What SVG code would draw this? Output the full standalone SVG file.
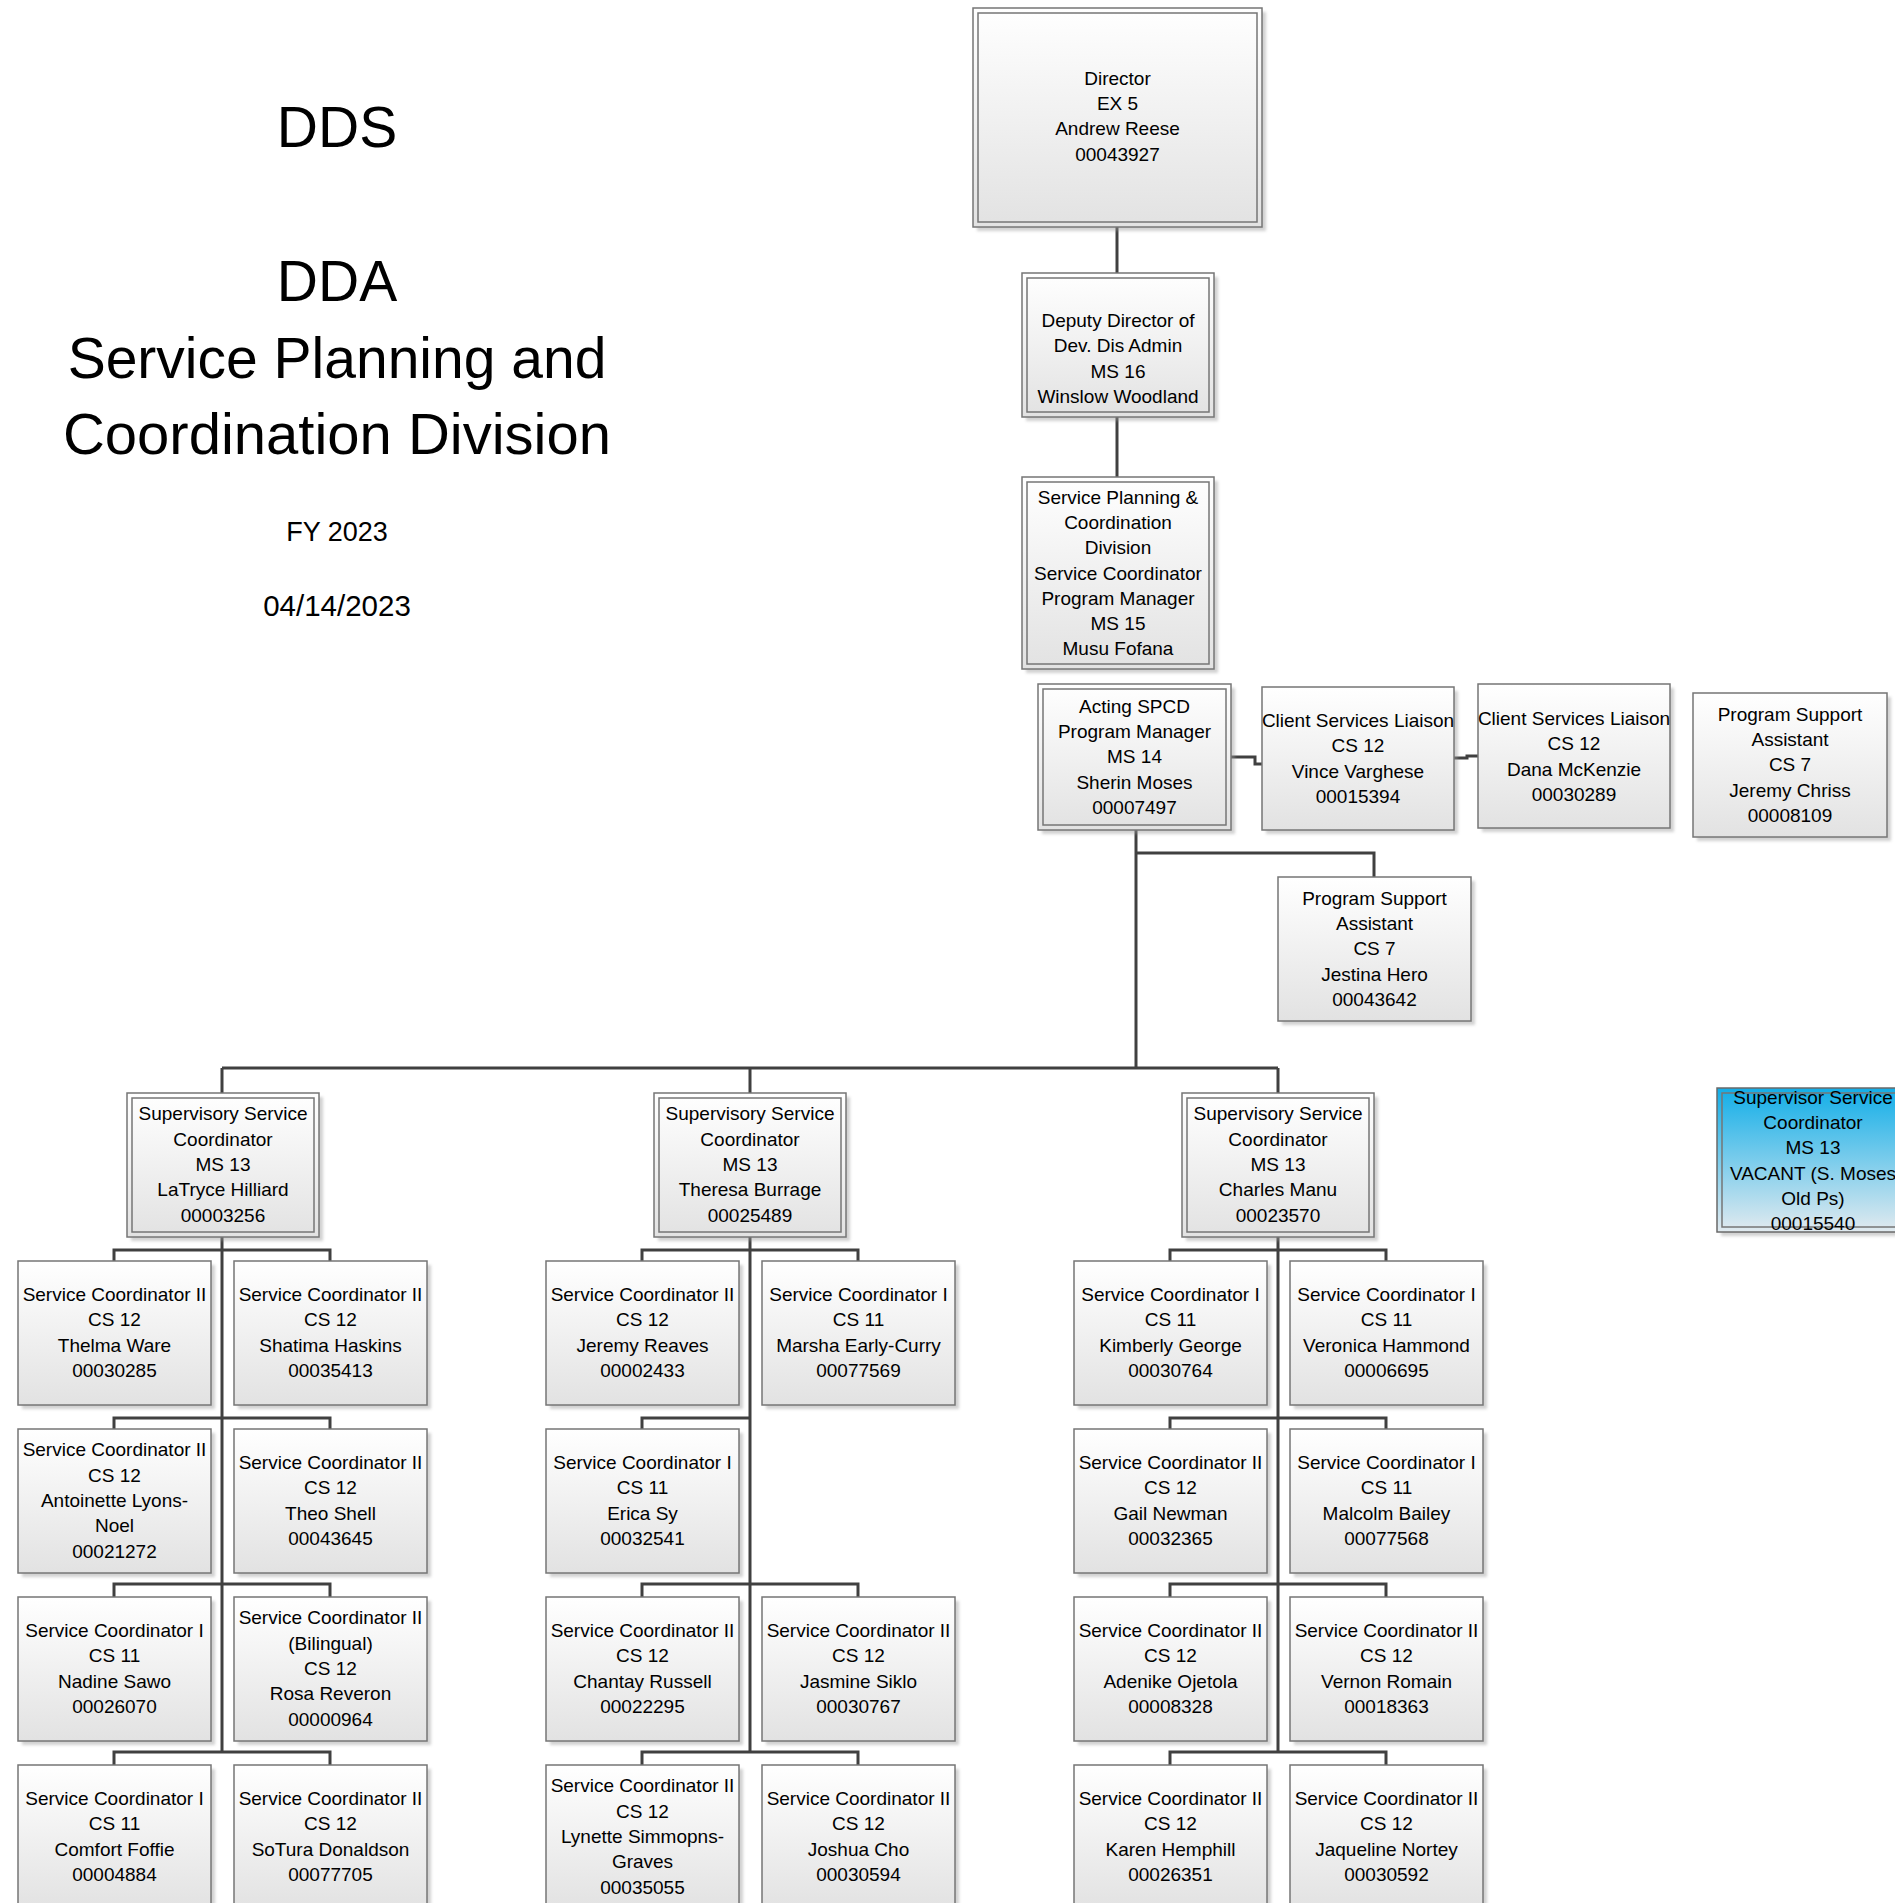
<svg xmlns="http://www.w3.org/2000/svg" width="1895" height="1903" viewBox="0 0 1895 1903">
<defs>
<linearGradient id="g" x1="0" y1="0" x2="0" y2="1"><stop offset="0" stop-color="#ffffff"/><stop offset="1" stop-color="#e2e2e2"/></linearGradient>
<linearGradient id="gb" x1="0" y1="0" x2="0" y2="1"><stop offset="0" stop-color="#12aee8"/><stop offset="1" stop-color="#e2eaef"/></linearGradient>
<filter id="blur" x="-10%" y="-10%" width="120%" height="120%"><feGaussianBlur stdDeviation="1.5"/></filter>
</defs>
<style>
.t{font-family:"Liberation Sans",Arial,sans-serif;font-size:19px;fill:#000;text-anchor:middle}
.ti{font-family:"Liberation Sans",Arial,sans-serif;fill:#000;text-anchor:middle}
.box{fill:url(#g);stroke:#767676;stroke-width:1.5}
.vac{fill:url(#gb);stroke:#6a6a6a;stroke-width:1.5}
.in{fill:none;stroke:#767676;stroke-width:1.5}
.sh{fill:#9a9a9a;opacity:.45;filter:url(#blur)}
.con{fill:none;stroke:#404040;stroke-width:3}
</style>
<rect width="1895" height="1903" fill="#fff"/>

<g id="title">
<text class="ti" x="337" y="147" font-size="57">DDS</text>
<text class="ti" x="337" y="301" font-size="57">DDA</text>
<text class="ti" x="337" y="378" font-size="57">Service Planning and</text>
<text class="ti" x="337" y="454" font-size="58">Coordination Division</text>
<text class="ti" x="337" y="541" font-size="27">FY 2023</text>
<text class="ti" x="337" y="616" font-size="29.5">04/14/2023</text>
</g>

<g id="connectors">
<path class="con" d="M1117,227V273"/>
<path class="con" d="M1117,417V477"/>
<path class="con" d="M1231,757H1255V764H1278"/>
<path class="con" d="M1454,758H1467V756H1478"/>
<path class="con" d="M1136,830V1068"/>
<path class="con" d="M1136,853H1374V877"/>
<path class="con" d="M222,1068H1278M222,1068V1093M750,1068V1093M1278,1068V1093"/>
<path class="con" d="M222,1237V1752M114,1261V1250H330V1261M114,1429V1418H330V1429M114,1597V1584H330V1597M114,1765V1752H330V1765"/>
<path class="con" d="M750,1237V1752M642,1261V1250H858V1261M642,1429V1418H750M642,1597V1584H858V1597M642,1765V1752H858V1765"/>
<path class="con" d="M1278,1237V1752M1170,1261V1250H1386V1261M1170,1429V1418H1386V1429M1170,1597V1584H1386V1597M1170,1765V1752H1386V1765"/>
</g>

<g id="director">
<rect class="sh" x="977" y="12" width="289" height="219"/>
<rect class="box" x="973" y="8" width="289" height="219"/>
<rect class="in" x="978" y="13" width="279" height="209"/>
<text class="t"><tspan x="1117.5" y="84.5">Director</tspan><tspan x="1117.5" y="109.9">EX 5</tspan><tspan x="1117.5" y="135.1">Andrew Reese</tspan><tspan x="1117.5" y="160.5">00043927</tspan></text>
</g>

<g id="deputy">
<rect class="sh" x="1026" y="277" width="192" height="144"/>
<rect class="box" x="1022" y="273" width="192" height="144"/>
<rect class="in" x="1027" y="278" width="182" height="134"/>
<text class="t"><tspan x="1118" y="327">Deputy Director of</tspan><tspan x="1118" y="352.3">Dev. Dis Admin</tspan><tspan x="1118" y="377.6">MS 16</tspan><tspan x="1118" y="403">Winslow Woodland</tspan></text>
</g>

<g id="spcd-manager">
<rect class="sh" x="1026" y="481" width="192" height="192"/>
<rect class="box" x="1022" y="477" width="192" height="192"/>
<rect class="in" x="1027" y="482" width="182" height="182"/>
<text class="t"><tspan x="1118" y="503.6">Service Planning &amp;</tspan><tspan x="1118" y="528.9">Coordination</tspan><tspan x="1118" y="554.2">Division</tspan><tspan x="1118" y="579.5">Service Coordinator</tspan><tspan x="1118" y="604.8">Program Manager</tspan><tspan x="1118" y="630.1">MS 15</tspan><tspan x="1118" y="655.4">Musu Fofana</tspan></text>
</g>

<g id="acting-spcd">
<rect class="sh" x="1042" y="688" width="193" height="146"/>
<rect class="box" x="1038" y="684" width="193" height="146"/>
<rect class="in" x="1043" y="689" width="183" height="136"/>
<text class="t"><tspan x="1134.5" y="712.6">Acting SPCD</tspan><tspan x="1134.5" y="737.9">Program Manager</tspan><tspan x="1134.5" y="763.2">MS 14</tspan><tspan x="1134.5" y="788.5">Sherin Moses</tspan><tspan x="1134.5" y="813.8">00007497</tspan></text>
</g>

<g id="csl-varghese">
<rect class="sh" x="1266" y="691" width="192" height="143"/>
<rect class="box" x="1262" y="687" width="192" height="143"/>
<text class="t"><tspan x="1358" y="727">Client Services Liaison</tspan><tspan x="1358" y="752.3">CS 12</tspan><tspan x="1358" y="777.6">Vince Varghese</tspan><tspan x="1358" y="803">00015394</tspan></text>
</g>

<g id="csl-mckenzie">
<rect class="sh" x="1482" y="688" width="192" height="144"/>
<rect class="box" x="1478" y="684" width="192" height="144"/>
<text class="t"><tspan x="1574" y="725">Client Services Liaison</tspan><tspan x="1574" y="750.3">CS 12</tspan><tspan x="1574" y="775.6">Dana McKenzie</tspan><tspan x="1574" y="801">00030289</tspan></text>
</g>

<g id="psa-chriss">
<rect class="sh" x="1697" y="697" width="194" height="144"/>
<rect class="box" x="1693" y="693" width="194" height="144"/>
<text class="t"><tspan x="1790" y="720.6">Program Support</tspan><tspan x="1790" y="745.9">Assistant</tspan><tspan x="1790" y="771.2">CS 7</tspan><tspan x="1790" y="796.5">Jeremy Chriss</tspan><tspan x="1790" y="821.8">00008109</tspan></text>
</g>

<g id="psa-hero">
<rect class="sh" x="1282" y="881" width="193" height="144"/>
<rect class="box" x="1278" y="877" width="193" height="144"/>
<text class="t"><tspan x="1374.5" y="904.6">Program Support</tspan><tspan x="1374.5" y="929.9">Assistant</tspan><tspan x="1374.5" y="955.2">CS 7</tspan><tspan x="1374.5" y="980.5">Jestina Hero</tspan><tspan x="1374.5" y="1005.8">00043642</tspan></text>
</g>

<g id="sup-hilliard">
<rect class="sh" x="131" y="1097" width="192" height="144"/>
<rect class="box" x="127" y="1093" width="192" height="144"/>
<rect class="in" x="132" y="1098" width="182" height="134"/>
<text class="t"><tspan x="223" y="1120.4">Supervisory Service</tspan><tspan x="223" y="1145.7">Coordinator</tspan><tspan x="223" y="1171">MS 13</tspan><tspan x="223" y="1196.3">LaTryce Hilliard</tspan><tspan x="223" y="1221.6">00003256</tspan></text>
</g>

<g id="sup-burrage">
<rect class="sh" x="658" y="1097" width="192" height="144"/>
<rect class="box" x="654" y="1093" width="192" height="144"/>
<rect class="in" x="659" y="1098" width="182" height="134"/>
<text class="t"><tspan x="750" y="1120.4">Supervisory Service</tspan><tspan x="750" y="1145.7">Coordinator</tspan><tspan x="750" y="1171">MS 13</tspan><tspan x="750" y="1196.3">Theresa Burrage</tspan><tspan x="750" y="1221.6">00025489</tspan></text>
</g>

<g id="sup-manu">
<rect class="sh" x="1186" y="1097" width="192" height="144"/>
<rect class="box" x="1182" y="1093" width="192" height="144"/>
<rect class="in" x="1187" y="1098" width="182" height="134"/>
<text class="t"><tspan x="1278" y="1120.4">Supervisory Service</tspan><tspan x="1278" y="1145.7">Coordinator</tspan><tspan x="1278" y="1171">MS 13</tspan><tspan x="1278" y="1196.3">Charles Manu</tspan><tspan x="1278" y="1221.6">00023570</tspan></text>
</g>

<g id="sup-vacant">
<rect class="sh" x="1721" y="1092" width="192" height="144"/>
<rect class="vac" x="1717" y="1088" width="192" height="144"/>
<rect class="in" x="1722" y="1093" width="182" height="134" stroke="#6a6a6a"/>
<text class="t"><tspan x="1813" y="1103.8">Supervisor Service</tspan><tspan x="1813" y="1129">Coordinator</tspan><tspan x="1813" y="1154.4">MS 13</tspan><tspan x="1813" y="1179.6">VACANT (S. Moses</tspan><tspan x="1813" y="1205">Old Ps)</tspan><tspan x="1813" y="1230.2">00015540</tspan></text>
</g>

<!-- Column 1 -->
<g id="sc-ware">
<rect class="sh" x="22" y="1265" width="193" height="144"/>
<rect class="box" x="18" y="1261" width="193" height="144"/>
<text class="t"><tspan x="114.5" y="1301">Service Coordinator II</tspan><tspan x="114.5" y="1326.4">CS 12</tspan><tspan x="114.5" y="1351.6">Thelma Ware</tspan><tspan x="114.5" y="1377">00030285</tspan></text>
</g>
<g id="sc-haskins">
<rect class="sh" x="238" y="1265" width="193" height="144"/>
<rect class="box" x="234" y="1261" width="193" height="144"/>
<text class="t"><tspan x="330.5" y="1301">Service Coordinator II</tspan><tspan x="330.5" y="1326.4">CS 12</tspan><tspan x="330.5" y="1351.6">Shatima Haskins</tspan><tspan x="330.5" y="1377">00035413</tspan></text>
</g>
<g id="sc-lyons-noel">
<rect class="sh" x="22" y="1433" width="193" height="144"/>
<rect class="box" x="18" y="1429" width="193" height="144"/>
<text class="t"><tspan x="114.5" y="1456.4">Service Coordinator II</tspan><tspan x="114.5" y="1481.7">CS 12</tspan><tspan x="114.5" y="1507">Antoinette Lyons-</tspan><tspan x="114.5" y="1532.3">Noel</tspan><tspan x="114.5" y="1557.6">00021272</tspan></text>
</g>
<g id="sc-shell">
<rect class="sh" x="238" y="1433" width="193" height="144"/>
<rect class="box" x="234" y="1429" width="193" height="144"/>
<text class="t"><tspan x="330.5" y="1469">Service Coordinator II</tspan><tspan x="330.5" y="1494.4">CS 12</tspan><tspan x="330.5" y="1519.6">Theo Shell</tspan><tspan x="330.5" y="1545">00043645</tspan></text>
</g>
<g id="sc-sawo">
<rect class="sh" x="22" y="1601" width="193" height="144"/>
<rect class="box" x="18" y="1597" width="193" height="144"/>
<text class="t"><tspan x="114.5" y="1637">Service Coordinator I</tspan><tspan x="114.5" y="1662.4">CS 11</tspan><tspan x="114.5" y="1687.6">Nadine Sawo</tspan><tspan x="114.5" y="1713">00026070</tspan></text>
</g>
<g id="sc-reveron">
<rect class="sh" x="238" y="1601" width="193" height="144"/>
<rect class="box" x="234" y="1597" width="193" height="144"/>
<text class="t"><tspan x="330.5" y="1624.4">Service Coordinator II</tspan><tspan x="330.5" y="1649.7">(Bilingual)</tspan><tspan x="330.5" y="1675">CS 12</tspan><tspan x="330.5" y="1700.3">Rosa Reveron</tspan><tspan x="330.5" y="1725.6">00000964</tspan></text>
</g>
<g id="sc-foffie">
<rect class="sh" x="22" y="1769" width="193" height="144"/>
<rect class="box" x="18" y="1765" width="193" height="144"/>
<text class="t"><tspan x="114.5" y="1805">Service Coordinator I</tspan><tspan x="114.5" y="1830.4">CS 11</tspan><tspan x="114.5" y="1855.6">Comfort Foffie</tspan><tspan x="114.5" y="1881">00004884</tspan></text>
</g>
<g id="sc-donaldson">
<rect class="sh" x="238" y="1769" width="193" height="144"/>
<rect class="box" x="234" y="1765" width="193" height="144"/>
<text class="t"><tspan x="330.5" y="1805">Service Coordinator II</tspan><tspan x="330.5" y="1830.4">CS 12</tspan><tspan x="330.5" y="1855.6">SoTura Donaldson</tspan><tspan x="330.5" y="1881">00077705</tspan></text>
</g>

<!-- Column 2 -->
<g id="sc-reaves">
<rect class="sh" x="550" y="1265" width="193" height="144"/>
<rect class="box" x="546" y="1261" width="193" height="144"/>
<text class="t"><tspan x="642.5" y="1301">Service Coordinator II</tspan><tspan x="642.5" y="1326.4">CS 12</tspan><tspan x="642.5" y="1351.6">Jeremy Reaves</tspan><tspan x="642.5" y="1377">00002433</tspan></text>
</g>
<g id="sc-early-curry">
<rect class="sh" x="766" y="1265" width="193" height="144"/>
<rect class="box" x="762" y="1261" width="193" height="144"/>
<text class="t"><tspan x="858.5" y="1301">Service Coordinator I</tspan><tspan x="858.5" y="1326.4">CS 11</tspan><tspan x="858.5" y="1351.6">Marsha Early-Curry</tspan><tspan x="858.5" y="1377">00077569</tspan></text>
</g>
<g id="sc-sy">
<rect class="sh" x="550" y="1433" width="193" height="144"/>
<rect class="box" x="546" y="1429" width="193" height="144"/>
<text class="t"><tspan x="642.5" y="1469">Service Coordinator I</tspan><tspan x="642.5" y="1494.4">CS 11</tspan><tspan x="642.5" y="1519.6">Erica Sy</tspan><tspan x="642.5" y="1545">00032541</tspan></text>
</g>
<g id="sc-russell">
<rect class="sh" x="550" y="1601" width="193" height="144"/>
<rect class="box" x="546" y="1597" width="193" height="144"/>
<text class="t"><tspan x="642.5" y="1637">Service Coordinator II</tspan><tspan x="642.5" y="1662.4">CS 12</tspan><tspan x="642.5" y="1687.6">Chantay Russell</tspan><tspan x="642.5" y="1713">00022295</tspan></text>
</g>
<g id="sc-siklo">
<rect class="sh" x="766" y="1601" width="193" height="144"/>
<rect class="box" x="762" y="1597" width="193" height="144"/>
<text class="t"><tspan x="858.5" y="1637">Service Coordinator II</tspan><tspan x="858.5" y="1662.4">CS 12</tspan><tspan x="858.5" y="1687.6">Jasmine Siklo</tspan><tspan x="858.5" y="1713">00030767</tspan></text>
</g>
<g id="sc-simmopns-graves">
<rect class="sh" x="550" y="1769" width="193" height="144"/>
<rect class="box" x="546" y="1765" width="193" height="144"/>
<text class="t"><tspan x="642.5" y="1792.4">Service Coordinator II</tspan><tspan x="642.5" y="1817.7">CS 12</tspan><tspan x="642.5" y="1843">Lynette Simmopns-</tspan><tspan x="642.5" y="1868.3">Graves</tspan><tspan x="642.5" y="1893.6">00035055</tspan></text>
</g>
<g id="sc-cho">
<rect class="sh" x="766" y="1769" width="193" height="144"/>
<rect class="box" x="762" y="1765" width="193" height="144"/>
<text class="t"><tspan x="858.5" y="1805">Service Coordinator II</tspan><tspan x="858.5" y="1830.4">CS 12</tspan><tspan x="858.5" y="1855.6">Joshua Cho</tspan><tspan x="858.5" y="1881">00030594</tspan></text>
</g>

<!-- Column 3 -->
<g id="sc-george">
<rect class="sh" x="1078" y="1265" width="193" height="144"/>
<rect class="box" x="1074" y="1261" width="193" height="144"/>
<text class="t"><tspan x="1170.5" y="1301">Service Coordinator I</tspan><tspan x="1170.5" y="1326.4">CS 11</tspan><tspan x="1170.5" y="1351.6">Kimberly George</tspan><tspan x="1170.5" y="1377">00030764</tspan></text>
</g>
<g id="sc-hammond">
<rect class="sh" x="1294" y="1265" width="193" height="144"/>
<rect class="box" x="1290" y="1261" width="193" height="144"/>
<text class="t"><tspan x="1386.5" y="1301">Service Coordinator I</tspan><tspan x="1386.5" y="1326.4">CS 11</tspan><tspan x="1386.5" y="1351.6">Veronica Hammond</tspan><tspan x="1386.5" y="1377">00006695</tspan></text>
</g>
<g id="sc-newman">
<rect class="sh" x="1078" y="1433" width="193" height="144"/>
<rect class="box" x="1074" y="1429" width="193" height="144"/>
<text class="t"><tspan x="1170.5" y="1469">Service Coordinator II</tspan><tspan x="1170.5" y="1494.4">CS 12</tspan><tspan x="1170.5" y="1519.6">Gail Newman</tspan><tspan x="1170.5" y="1545">00032365</tspan></text>
</g>
<g id="sc-bailey">
<rect class="sh" x="1294" y="1433" width="193" height="144"/>
<rect class="box" x="1290" y="1429" width="193" height="144"/>
<text class="t"><tspan x="1386.5" y="1469">Service Coordinator I</tspan><tspan x="1386.5" y="1494.4">CS 11</tspan><tspan x="1386.5" y="1519.6">Malcolm Bailey</tspan><tspan x="1386.5" y="1545">00077568</tspan></text>
</g>
<g id="sc-ojetola">
<rect class="sh" x="1078" y="1601" width="193" height="144"/>
<rect class="box" x="1074" y="1597" width="193" height="144"/>
<text class="t"><tspan x="1170.5" y="1637">Service Coordinator II</tspan><tspan x="1170.5" y="1662.4">CS 12</tspan><tspan x="1170.5" y="1687.6">Adenike Ojetola</tspan><tspan x="1170.5" y="1713">00008328</tspan></text>
</g>
<g id="sc-romain">
<rect class="sh" x="1294" y="1601" width="193" height="144"/>
<rect class="box" x="1290" y="1597" width="193" height="144"/>
<text class="t"><tspan x="1386.5" y="1637">Service Coordinator II</tspan><tspan x="1386.5" y="1662.4">CS 12</tspan><tspan x="1386.5" y="1687.6">Vernon Romain</tspan><tspan x="1386.5" y="1713">00018363</tspan></text>
</g>
<g id="sc-hemphill">
<rect class="sh" x="1078" y="1769" width="193" height="144"/>
<rect class="box" x="1074" y="1765" width="193" height="144"/>
<text class="t"><tspan x="1170.5" y="1805">Service Coordinator II</tspan><tspan x="1170.5" y="1830.4">CS 12</tspan><tspan x="1170.5" y="1855.6">Karen Hemphill</tspan><tspan x="1170.5" y="1881">00026351</tspan></text>
</g>
<g id="sc-nortey">
<rect class="sh" x="1294" y="1769" width="193" height="144"/>
<rect class="box" x="1290" y="1765" width="193" height="144"/>
<text class="t"><tspan x="1386.5" y="1805">Service Coordinator II</tspan><tspan x="1386.5" y="1830.4">CS 12</tspan><tspan x="1386.5" y="1855.6">Jaqueline Nortey</tspan><tspan x="1386.5" y="1881">00030592</tspan></text>
</g>
</svg>
